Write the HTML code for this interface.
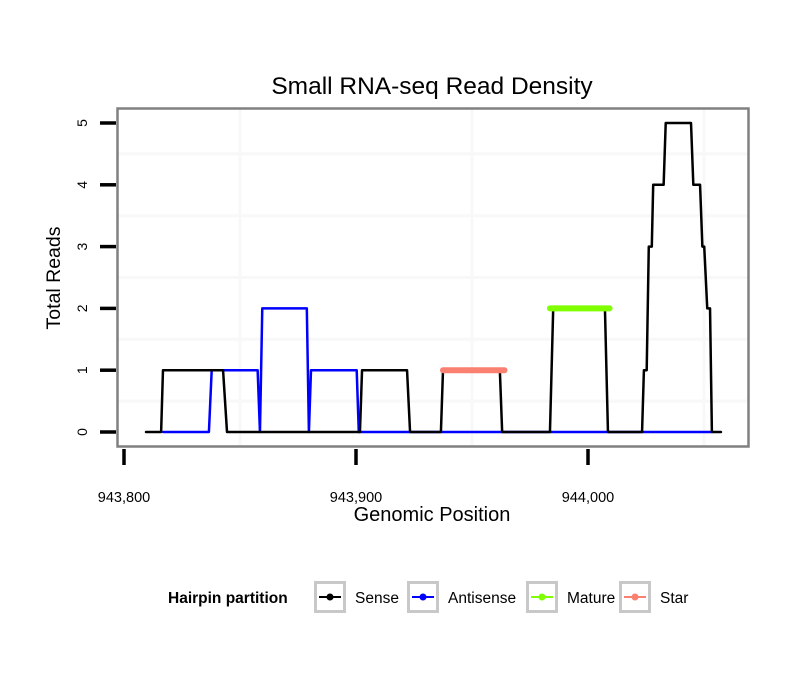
<!DOCTYPE html>
<html><head><meta charset="utf-8"><style>
body{margin:0;background:#fff;font-family:"Liberation Sans",sans-serif}
svg text{font-family:"Liberation Sans",sans-serif}
</style></head><body>
<svg id="chart" width="810" height="690" xmlns="http://www.w3.org/2000/svg">
<rect width="810" height="690" fill="#fff"/>
<text x="432" y="94" text-anchor="middle" font-size="24.5">Small RNA-seq Read Density</text>
<g id="grid"></g>
<g id="series"></g>
<rect x="117.5" y="108.5" width="631" height="338" fill="none" stroke="#808080" stroke-width="2.5"/>
<g id="axes"></g>
<text x="432" y="521" text-anchor="middle" font-size="20">Genomic Position</text>
<text transform="translate(60,278) rotate(-90)" text-anchor="middle" font-size="19.5">Total Reads</text>
<g>
<text x="168" y="603" font-size="15.5" font-weight="bold">Hairpin partition</text>
<g id="legend"></g>
</g>
</svg>
<script>
const xTicks=[943800,943900,944000];
const xTickLabels=["943,800","943,900","944,000"];
const yTicks=[0,1,2,3,4,5];
const senseX=[943809.5,943816,943816.8,943842.7,943844.4,943901.7,943902.6,943922,943923.3,943936.6,943937.5,943962,943963,943983.6,943985,944007.3,944008.6,944023.3,944024.1,944025.3,944026.2,944027.5,944028.1,944032.6,944033.5,944044.4,944045.4,944048.3,944049.3,944050.1,944051.4,944052.6,944053.4,944057.3];
const senseY=[0,0,1,1,0,0,1,1,0,0,1,1,0,0,2,2,0,0,1,1,3,3,4,4,5,5,4,4,3,3,2,2,0,0];
const antiX=[943816.9,943836.6,943837.8,943857.6,943858.6,943859.6,943878.8,943879.7,943880.6,943900.3,943901.2,944053.4];
const antiY=[0,0,1,1,0,2,2,0,1,1,0,0];
const matureX=[943983.6,944009.3];
const matureY=[2,2];
const starX=[943937.5,943964];
const starY=[1,1];
const X0=124,XS=2.32,Y0=432,YS=61.8;
const sx=v=>X0+(v-943800)*XS, sy=v=>Y0-v*YS;
const NS="http://www.w3.org/2000/svg";
function mk(t,a,p){const e=document.createElementNS(NS,t);for(const k in a)e.setAttribute(k,a[k]);p.appendChild(e);return e;}
const grid=document.getElementById('grid');
[943850,943950,944050].forEach(v=>{const l=mk('line',{x1:sx(v),x2:sx(v),y1:109,y2:446,stroke:'#f8f8f8','stroke-width':3},grid);

});
[0.5,1.5,2.5,3.5,4.5].forEach(v=>{const l=mk('line',{x1:118,x2:748,y1:sy(v),y2:sy(v),stroke:'#f8f8f8','stroke-width':3},grid);

});
const axes=document.getElementById('axes');
xTicks.forEach((v,i)=>{const l=mk('line',{x1:sx(v),x2:sx(v),y1:449,y2:465,stroke:'#000','stroke-width':3.5},axes);


const t=mk('text',{x:sx(v),y:502,'text-anchor':'middle','font-size':14.5},axes);t.textContent=xTickLabels[i];

});
yTicks.forEach(v=>{const l=mk('line',{x1:100,x2:116,y1:sy(v),y2:sy(v),stroke:'#000','stroke-width':3.5},axes);


const t=mk('text',{transform:`translate(87,${sy(v)}) rotate(-90)`,'text-anchor':'middle','font-size':14},axes);t.textContent=v;

});
const ser=document.getElementById('series');
function line(xs,ys,col,w,name){const p=xs.map((x,i)=>sx(x)+','+sy(ys[i])).join(' ');
const e=mk('polyline',{points:p,fill:'none',stroke:col,'stroke-width':w,'stroke-linejoin':'round','stroke-linecap':'round'},ser);

}
line(antiX,antiY,'#0000ff',2.5,'antisense-line');
line(senseX,senseY,'#000',2.5,'sense-line');
line(starX,starY,'#fa8072',6,'star-line');
line(matureX,matureY,'#7fff00',6,'mature-line');
const leg=document.getElementById('legend');
const items=[["Sense","#000",314,355],["Antisense","#0000ff",407,448],["Mature","#7fff00",526,567],["Star","#fa8072",619,660]];
items.forEach(it=>{const g=mk('g',{},leg);


mk('rect',{x:it[2]+1.5,y:582.5,width:29,height:29,fill:'#fff',stroke:'#c8c8c8','stroke-width':3},g);
mk('line',{x1:it[2]+5,x2:it[2]+27,y1:597,y2:597,stroke:it[1],'stroke-width':2},g);
mk('circle',{cx:it[2]+16,cy:597,r:3.5,fill:it[1]},g);
const t=mk('text',{x:it[3],y:603,'font-size':15.5},g);t.textContent=it[0];});
</script>
</body></html>
